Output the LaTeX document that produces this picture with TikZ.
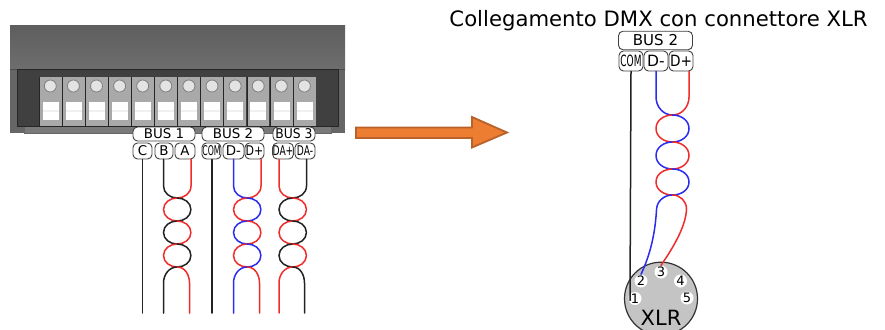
\documentclass[tikz,border=0pt]{standalone}
\usepackage{fontspec}
\setmainfont{DejaVu Sans}
\usepackage{tikz}
\usetikzlibrary{positioning, arrows.meta}
\definecolor{bodygray}{HTML}{666666}
\definecolor{innergray}{HTML}{404040}
\definecolor{stripgray}{HTML}{7A7A7A}
\definecolor{blockgray}{HTML}{A9A9A9}
\definecolor{wirered}{HTML}{F02B2B}
\definecolor{wireblue}{HTML}{2B2BF0}
\definecolor{wireblack}{HTML}{222222}
\definecolor{arroworange}{HTML}{ED7D31}
\definecolor{arrowedge}{HTML}{B8612A}

% one pair of half loops, from the top junction to the bottom one
\newcommand{\lobe}[6]{%
    \draw [wire, #5] (#1,#3) to[out=180,in=90] (#1-#2,#3/2+#4/2) to[out=-90,in=180] (#1,#4);
    \draw [wire, #6] (#1,#3) to[out=0,in=90] (#1+#2,#3/2+#4/2) to[out=-90,in=0] (#1,#4);
}

\begin{document}
\begin{tikzpicture}[
        x=1pt, y=-1pt,
        every node/.style={inner sep=0pt},
        tag/.style={rectangle, rounded corners=4.5pt, draw=black!75, fill=white, text centered, line width=0.9pt},
        bustag/.style={tag, minimum height=14pt, font=\fontsize{13.4}{14}\selectfont},
        pintag/.style={tag, minimum height=16pt, font=\fontsize{13.4}{14}\selectfont},
        bigbustag/.style={tag, minimum height=18.5pt, minimum width=74pt, font=\fontsize{15}{16}\selectfont},
        bigpintag/.style={tag, minimum height=20pt, font=\fontsize{15.5}{16}\selectfont},
        wire/.style={line width=1.5pt, line cap=round},
        screw/.style={circle, minimum size=12pt, draw=black!50, fill=black!11, line width=0.8pt},
        xlrpin/.style={circle, minimum size=13pt, fill=white, font=\fontsize{13}{14}\selectfont}
    ]
    \useasboundingbox (0,0) rectangle (885,329);

    % Terminal block
    \fill [bodygray] (10,69) rectangle (345,133);
    \fill [top color=black!63, bottom color=black!57] (10,26) rectangle (345,69);
    \draw [black!70, line width=0.7pt] (10,69) -- (345,69);
    \fill [stripgray] (24,126) rectangle (331,133);
    \draw [black!60] (24,126) rectangle (331,133);
    \fill [innergray] (17,69.5) rectangle (338,126);
    \draw [black!85] (17,69.5) rectangle (338,126);
    \foreach \i in {0,...,11} {
        \fill [blockgray] (39+\i*23.1,76.5) rectangle (38.4+\i*23.1+23.1,125.5);
        \draw [black!85, line width=0.8pt] (39+\i*23.1,76.5) -- (39+\i*23.1,125.5);
        \node (screw\i) [screw] at (50.3+\i*23.1,86) {};
        \fill [white] (42.5+\i*23.1,101.5) rectangle (58.5+\i*23.1,120);
        \fill [black!6] (42.5+\i*23.1,109.5) rectangle (58.5+\i*23.1,112);
    }

    % Title
    \node (title) at (658.5,20.5) {\fontsize{21.2}{24}\selectfont Collegamento DMX con connettore XLR};

    % Labels left
    \node (busA) [bustag, minimum width=62pt] at (164,134) {BUS 1};
    \node (busB) [bustag, minimum width=62pt] at (233,134) {BUS 2};
    \node (busC) [bustag, minimum width=42pt] at (294,134) {\scalebox{0.92}[1]{BUS 3}};
    \node (termC) [pintag, minimum width=19pt] at (142.5,151) {C};
    \node (termB) [pintag, minimum width=18pt] at (164,151) {B};
    \node (termA) [pintag, minimum width=20pt] at (185,151) {A};
    \node (termCom) [pintag, minimum width=19pt] at (211.5,151) {\scalebox{0.58}[1]{COM}};
    \node (termDm) [pintag, minimum width=21pt] at (233.5,151) {D-};
    \node (termDp) [pintag, minimum width=19pt] at (254.5,151) {\scalebox{0.82}[1]{D+}};
    \node (termDAp) [pintag, minimum width=20pt] at (283,151) {\scalebox{0.68}[1]{DA+}};
    \node (termDAm) [pintag, minimum width=20pt] at (305,151) {\scalebox{0.68}[1]{DA-}};

    % Labels right
    \node (bigbus) [bigbustag] at (655.5,40.5) {BUS 2};
    \node (bigCom) [bigpintag, minimum width=24pt] at (631,61) {\scalebox{0.58}[1]{COM}};
    \node (bigDm) [bigpintag, minimum width=24pt] at (656,61) {D-};
    \node (bigDp) [bigpintag, minimum width=24pt] at (681,61) {\scalebox{0.88}[1]{D+}};

    % Connector
    \node (xlr) [circle, minimum size=73pt, draw=black!80, fill=black!23, line width=1.2pt] at (661,298.7) {};
    \node (pinA) [xlrpin] at (635,298.5) {1};
    \node (pinB) [xlrpin] at (641,281) {2};
    \node (pinC) [xlrpin] at (661,272) {3};
    \node (pinD) [xlrpin] at (680.5,281) {4};
    \node (pinE) [xlrpin] at (687,298) {5};
    \node (xlrname) at (661,318) {\fontsize{21}{22}\selectfont XLR};

    % Free ends
    \coordinate (endC) at (142.5,313);
    \coordinate (endCom) at (212,313);

    % Straight wires
    \draw [wire, wireblack] (termC) -- (endC);
    \draw [wire, wireblack] (termCom.south -| endCom) -- (endCom);
    \draw [wire, wireblack] (bigCom.south) -- ([xshift=-5pt,yshift=-2pt]pinA.center);

    % Pair A B
    \draw [wire, wireblack] (termB.south -| 163.5,0) -- (163.5,186) to[out=-90,in=180] (177.2,198);
    \draw [wire, wirered] (termA.south -| 191,0) -- (191,186) to[out=-90,in=0] (177.2,198);
    \lobe{177.2}{13.7}{198}{221}{wirered}{wireblack}
    \lobe{177.2}{13.7}{221}{244}{wireblack}{wirered}
    \lobe{177.2}{13.7}{244}{267}{wirered}{wireblack}
    \draw [wire, wireblack] (177.2,267) to[out=180,in=90] (163.5,283) -- (163.5,313);
    \draw [wire, wirered] (177.2,267) to[out=0,in=90] (189.5,283) -- (189.5,313);

    % Pair D
    \draw [wire, wireblue] (termDm.south -| 233.5,0) -- (233.5,186) to[out=-90,in=180] (247.2,198);
    \draw [wire, wirered] (termDp.south -| 261,0) -- (261,186) to[out=-90,in=0] (247.2,198);
    \lobe{247.2}{13.7}{198}{221}{wirered}{wireblue}
    \lobe{247.2}{13.7}{221}{244}{wireblue}{wirered}
    \lobe{247.2}{13.7}{244}{267}{wirered}{wireblue}
    \draw [wire, wireblue] (247.2,267) to[out=180,in=90] (233.5,283) -- (233.5,313);
    \draw [wire, wirered] (247.2,267) to[out=0,in=90] (259.5,283) -- (259.5,313);

    % Pair DA
    \draw [wire, wirered] (termDAp.south -| 279,0) -- (279,186) to[out=-90,in=180] (292.7,198);
    \draw [wire, wireblack] (termDAm.south -| 306.5,0) -- (306.5,186) to[out=-90,in=0] (292.7,198);
    \lobe{292.7}{13.7}{198}{221}{wireblack}{wirered}
    \lobe{292.7}{13.7}{221}{244}{wirered}{wireblack}
    \lobe{292.7}{13.7}{244}{267}{wireblack}{wirered}
    \draw [wire, wirered] (292.7,267) to[out=180,in=90] (279,283) -- (279,313);
    \draw [wire, wireblack] (292.7,267) to[out=0,in=90] (304.5,283) -- (304.5,313);

    % Pair to XLR
    \draw [wire, wireblue] (bigDm.south) -- (656,97) to[out=-90,in=180] (672.5,115);
    \draw [wire, wirered] (bigDp.south -| 689,0) -- (689,97) to[out=-90,in=0] (672.5,115);
    \lobe{672.5}{16.5}{115}{142}{wirered}{wireblue}
    \lobe{672.5}{16.5}{142}{169}{wireblue}{wirered}
    \lobe{672.5}{16.5}{169}{195}{wirered}{wireblue}
    \draw [wire, wireblue] (672.5,195) to[out=180,in=90] (656.5,210) .. controls (655,235) and (650,255) .. (pinB.north);
    \draw [wire, wirered] (672.5,195) to[out=0,in=90] (686.5,209) .. controls (686,225) and (675,245) .. (pinC.north);

    % Big arrow
    \draw [arrowedge, fill=arroworange, line width=1.8pt, line join=miter]
        (356,127.5) -- (472,127.5) -- (472,117) -- (507,132.5) -- (472,147.5) -- (472,138) -- (356,138) -- cycle;
\end{tikzpicture}
\end{document}
